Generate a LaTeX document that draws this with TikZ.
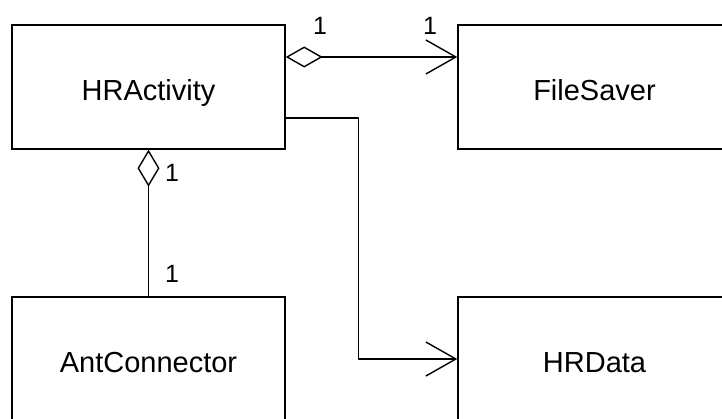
\documentclass[tikz,border=0pt]{standalone}
\usepackage{fontspec}
\setmainfont{Liberation Sans}
\usetikzlibrary{arrows.meta,positioning}
\tikzset{
  cls/.style={draw=black,line width=1.4pt,fill=white,minimum width=273pt,minimum height=124pt,inner sep=0pt,text height=27pt,text depth=0pt,font=\fontsize{29}{33}\selectfont},
  mult/.style={font=\fontsize{25}{28}\selectfont,inner sep=0pt},
  aggr/.style={line width=1.4pt,line join=round,{Diamond[open,length=37pt,width=21pt,line width=1.4pt]}-{Straight Barb[length=30pt,width=34pt,line width=1.4pt]}},
  aggrplain/.style={line width=1.4pt,{Diamond[open,length=37pt,width=22pt,line width=1.4pt]}-},
  dep/.style={line width=1.4pt,line join=round,-{Straight Barb[length=30pt,width=34pt,line width=1.4pt]}},
}
\begin{document}
\begin{tikzpicture}[x=1pt,y=-1pt]
  \useasboundingbox (0,0) rectangle (722,419);
  \node[cls] (act) at (148.5,87) {HRActivity};
  \node[cls] (saver) at (594.5,87) {FileSaver};
  \node[cls] (ant) at (148.5,359) {AntConnector};
  \node[cls] (data) at (594.5,359) {HRData};
  % aggregation arrows
  \draw[aggr] ([yshift=30pt]act.east) -- ([yshift=30pt]saver.west);
  \draw[aggrplain] (act.south) -- (ant.north);
  % dependency
  \draw[dep] ([yshift=-31pt]act.east) -- ++(73pt,0) |- (data.west);
  % multiplicities
  \node[mult] (m1) at (320,26) {1};
  \node[mult] (m2) at (430,26) {1};
  \node[mult] (m3) at (172,173) {1};
  \node[mult] (m4) at (172,274) {1};
\end{tikzpicture}
\end{document}
